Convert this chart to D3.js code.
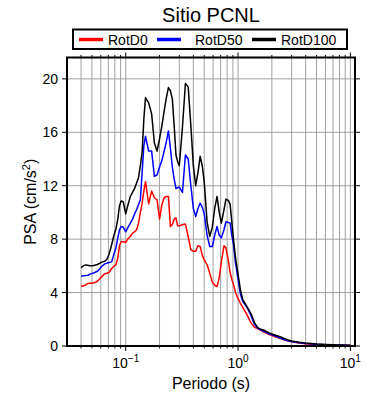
<!DOCTYPE html>
<html>
<head>
<meta charset="utf-8">
<script src="https://cdn.jsdelivr.net/npm/d3@7.9.0/dist/d3.min.js"></script>
<style>
  body { margin: 0; background: #fff; }
  svg { display: block; font-family: "Liberation Sans", Arial, sans-serif; }
</style>
</head>
<body>
<svg id="chart" width="390" height="400"></svg>
<script>
// ── data ──────────────────────────────────────────────────────────────────────
const periods = [
  0.040, 0.042, 0.044, 0.046, 0.048, 0.050, 0.053, 0.056, 0.059, 0.062,
  0.065, 0.068, 0.071, 0.075, 0.078, 0.082, 0.085, 0.088, 0.091, 0.095,
  0.10, 0.105, 0.11, 0.115, 0.12, 0.125, 0.13, 0.135, 0.14, 0.145,
  0.15, 0.16, 0.17, 0.18, 0.19, 0.20, 0.21, 0.22, 0.23, 0.24,
  0.25, 0.26, 0.27, 0.28, 0.29, 0.30, 0.32, 0.34, 0.36, 0.38,
  0.40, 0.42, 0.44, 0.46, 0.48, 0.50, 0.53, 0.56, 0.59, 0.62,
  0.65, 0.68, 0.71, 0.75, 0.78, 0.82, 0.85, 0.88, 0.91, 0.95,
  1.0, 1.05, 1.1, 1.2, 1.3, 1.4, 1.5, 1.6, 1.7, 1.8,
  1.9, 2.0, 2.2, 2.4, 2.6, 2.8, 3.0, 3.5, 4.0, 4.5,
  5.0, 6.0, 7.0, 8.0, 9.0, 10.0
];

const rotD0 = [
  4.5, 4.5, 4.57, 4.68, 4.7, 4.7, 4.75, 4.85, 5.05, 5.25,
  5.4, 5.45, 5.5, 5.8, 5.95, 6.1, 6.6, 7.5, 7.8, 7.8,
  7.75, 8.05, 8.2, 8.45, 8.55, 8.7, 9.2, 10.0, 10.7, 11.6,
  12.3, 10.65, 11.6, 11.1, 10.95, 9.5, 10.6, 11.1, 11.2, 11.2,
  8.95, 9.1, 9.5, 9.6, 9.0, 9.0, 9.08, 9.13, 8.2, 7.2,
  7.1, 7.1, 7.5, 7.45, 6.8, 6.45, 6.1, 5.45, 4.8, 4.55,
  4.45, 5.1, 6.3, 7.5, 7.35, 6.4, 5.5, 5.0, 4.6, 4.0,
  3.55, 3.2, 2.9, 2.35, 1.75, 1.4, 1.3, 1.15, 1.05, 0.95,
  0.85, 0.78, 0.65, 0.55, 0.45, 0.37, 0.32, 0.22, 0.17, 0.14,
  0.12, 0.09, 0.07, 0.06, 0.05, 0.04
];

const rotD50 = [
  5.25, 5.25, 5.27, 5.3, 5.38, 5.42, 5.5, 5.6, 5.8, 6.0,
  6.15, 6.2, 6.25, 6.3, 6.8, 7.4, 8.1, 8.7, 8.95, 8.9,
  8.55, 8.9, 9.2, 9.5, 9.9, 10.2, 10.6, 10.95, 13.0, 15.0,
  15.7, 14.6, 14.6, 12.7, 12.8, 13.4, 13.9, 14.6, 15.3, 16.1,
  14.8, 13.4, 12.5, 11.8, 11.85, 11.9, 11.5, 14.3, 14.0, 12.0,
  10.3, 9.7, 10.3, 10.7, 10.4, 9.9, 8.3, 7.45, 7.45, 8.3,
  8.95, 8.3, 8.1, 8.7, 9.3, 9.25, 9.2, 8.3, 7.6, 6.2,
  5.0, 3.9, 3.35, 2.9, 2.3, 1.62, 1.32, 1.2, 1.1, 1.0,
  0.9, 0.83, 0.7, 0.58, 0.47, 0.4, 0.33, 0.24, 0.19, 0.16,
  0.13, 0.1, 0.08, 0.07, 0.05, 0.04
];

const rotD100 = [
  5.87, 6.0, 6.07, 6.05, 6.0, 6.0, 6.05, 6.1, 6.2, 6.3,
  6.35, 6.5, 6.85, 7.6, 8.2, 8.8, 9.5, 10.5, 10.85, 10.8,
  9.9, 10.6, 11.2, 11.5, 11.8, 12.2, 12.6, 13.5, 14.5, 17.0,
  18.6, 18.2, 17.4, 15.2, 14.6, 15.5, 16.5, 17.6, 18.6, 19.35,
  19.1, 18.5, 16.5, 14.3, 13.8, 13.5, 16.4, 19.65, 19.4, 16.5,
  13.5, 12.0, 13.0, 14.2, 13.5, 12.3, 9.3, 8.2, 8.9, 10.3,
  11.2, 10.0, 9.2, 10.2, 11.0, 10.9, 10.6, 9.3, 8.0, 6.6,
  5.4, 4.2, 3.5, 2.95, 2.45, 1.75, 1.38, 1.25, 1.18, 1.07,
  0.98, 0.9, 0.78, 0.68, 0.55, 0.45, 0.38, 0.28, 0.22, 0.18,
  0.15, 0.12, 0.1, 0.08, 0.06, 0.05
];

const seriesNames = ['RotD0', 'RotD50', 'RotD100'];
const seriesColors = ['#ff0000', '#0000ff', '#000000'];
const seriesValues = [rotD0, rotD50, rotD100];

const yTicks = [0, 4, 8, 12, 16, 20];
const xMajor = [0.1, 1, 10];
const xMajorExp = ['\u22121', '0', '1'];
const xMinor = [
  0.03, 0.04, 0.05, 0.06, 0.07, 0.08, 0.09,
  0.2, 0.3, 0.4, 0.5, 0.6, 0.7, 0.8, 0.9,
  2, 3, 4, 5, 6, 7, 8, 9
];

// ── layout ────────────────────────────────────────────────────────────────────
const mLeft = 67, mRight = 355, mTop = 57.5, mBottom = 346;

const x = d3.scaleLog().domain([0.03, 11]).range([mLeft, mRight]);
const y = d3.scaleLinear().domain([0, 21.6]).range([mBottom, mTop]);

const svg = d3.select('#chart');

// 网格
const grid = svg.append('g').attr('stroke', '#a0a0a0').attr('stroke-width', 1);
xMinor.concat(xMajor).forEach((t) => {
  grid.append('line')
    .attr('x1', x(t)).attr('x2', x(t))
    .attr('y1', mTop).attr('y2', mBottom);
});
yTicks.slice(1).forEach((t) => {
  grid.append('line')
    .attr('x1', mLeft).attr('x2', mRight)
    .attr('y1', y(t)).attr('y2', y(t));
});

// 曲线
const line = d3.line()
  .x((d, i) => x(periods[i]))
  .y((d) => y(d));

seriesValues.forEach((vals, i) => {
  svg.append('path')
    .attr('d', line(vals))
    .attr('fill', 'none')
    .attr('stroke', seriesColors[i])
    .attr('stroke-width', 1.5)
    .attr('stroke-linejoin', 'round');
});

// 边框和刻度
svg.append('rect')
  .attr('x', mLeft).attr('y', mTop)
  .attr('width', mRight - mLeft).attr('height', mBottom - mTop)
  .attr('fill', 'none')
  .attr('stroke', '#000')
  .attr('stroke-width', 2);

const ticks = svg.append('g').attr('stroke', '#000').attr('stroke-width', 1);
xMinor.forEach((t) => {
  if (x(t) <= mLeft + 1) return;
  ticks.append('line').attr('x1', x(t)).attr('x2', x(t)).attr('y1', mBottom).attr('y2', mBottom + 2.5);
  ticks.append('line').attr('x1', x(t)).attr('x2', x(t)).attr('y1', mTop).attr('y2', mTop - 2.5);
});
xMajor.forEach((t) => {
  ticks.append('line').attr('x1', x(t)).attr('x2', x(t)).attr('y1', mBottom).attr('y2', mBottom + 5);
  ticks.append('line').attr('x1', x(t)).attr('x2', x(t)).attr('y1', mTop).attr('y2', mTop - 5);
});
yTicks.forEach((t) => {
  ticks.append('line').attr('x1', mLeft).attr('x2', mLeft - 5).attr('y1', y(t)).attr('y2', y(t));
  ticks.append('line').attr('x1', mRight).attr('x2', mRight + 5).attr('y1', y(t)).attr('y2', y(t));
});

// 刻度标签
yTicks.forEach((t) => {
  svg.append('text')
    .attr('x', mLeft - 9).attr('y', y(t) + 5)
    .attr('text-anchor', 'end')
    .attr('font-size', 14)
    .text(t);
});

xMajor.forEach((t, i) => {
  const lbl = svg.append('text')
    .attr('x', x(t)).attr('y', mBottom + 22)
    .attr('text-anchor', 'middle')
    .attr('font-size', 14);
  lbl.append('tspan').text('10');
  lbl.append('tspan').attr('dy', -6).attr('font-size', 10).text(xMajorExp[i]);
});

// 轴标题
svg.append('text')
  .attr('x', (mLeft + mRight) / 2).attr('y', mBottom + 43)
  .attr('text-anchor', 'middle')
  .attr('font-size', 16)
  .text('Periodo (s)');

const yLabel = svg.append('text')
  .attr('transform', `translate(36,${(mTop + mBottom) / 2}) rotate(-90)`)
  .attr('text-anchor', 'middle')
  .attr('font-size', 16);
yLabel.append('tspan').text('PSA (cm/s');
yLabel.append('tspan').attr('dy', -6).attr('font-size', 11).text('2');
yLabel.append('tspan').attr('dy', 6).text(')');

// 标题
svg.append('text')
  .attr('x', 211).attr('y', 22)
  .attr('text-anchor', 'middle')
  .attr('font-size', 20)
  .text('Sitio PCNL');

// ── 图例 ──────────────────────────────────────────────────────────────────────
const legend = svg.append('g');
legend.append('rect')
  .attr('x', 73).attr('y', 29.5)
  .attr('width', 274).attr('height', 19.5)
  .attr('fill', '#fff')
  .attr('stroke', '#000')
  .attr('stroke-width', 2);

const legendX = [79, 157, 252];
seriesNames.forEach((name, i) => {
  legend.append('line')
    .attr('x1', legendX[i]).attr('x2', legendX[i] + 24)
    .attr('y1', 39.5).attr('y2', 39.5)
    .attr('stroke', seriesColors[i])
    .attr('stroke-width', 3.5);
  legend.append('text')
    .attr('x', legendX[i] + 29 + (i === 1 ? 9 : 0)).attr('y', 44.5)
    .attr('font-size', 14)
    .text(name);
});
</script>
</body>
</html>
